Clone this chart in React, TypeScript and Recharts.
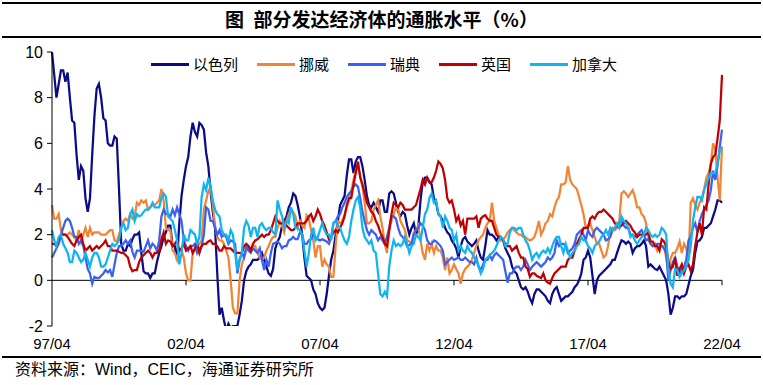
import React from 'react';
import { LineChart, Line, XAxis, YAxis, ReferenceLine } from 'recharts';

// monthly categories 97/04 ... 22/04
const months: string[] = [];
for (let k = 0; k < 301; k++) {
  const y = 1997 + Math.floor((3 + k) / 12);
  const mo = ((3 + k) % 12) + 1;
  months.push(`${String(y).slice(2)}/${mo < 10 ? '0' + mo : mo}`);
}

const xTickLabels = ['97/04', '02/04', '07/04', '12/04', '17/04', '22/04'];
const yTicks = [-2, 0, 2, 4, 6, 8, 10];

const israel = [
  10.0, 9.0, 8.0, 8.6, 9.2, 9.2, 8.7, 9.1, 8.0, 7.0,
  6.9, 5.5, 4.4, 5.0, 4.8, 3.6, 3.0, 3.6, 5.5, 7.2,
  8.4, 8.6, 8.0, 7.1, 7.0, 6.0, 5.9, 5.9, 6.3, 6.2,
  4.0, 1.6, 1.3, 1.3, 1.6, 1.5, 1.8, 2.0, 2.0, 2.1,
  1.2, 0.4, 0.3, 0.3, 0.1, 0.3, 0.3, 0.8, 1.2, 1.5,
  1.9, 2.1, 2.4, 2.4, 1.5, 1.5, 0.9, 2.5, 3.7, 4.4,
  5.0, 5.4, 6.3, 6.9, 6.5, 6.3, 6.9, 6.8, 6.6, 5.6,
  5.0, 3.9, 3.0, 2.3, 0.3, -1.5, -1.2, -1.75, -2.2, -1.9,
  -2.1, -2.0, -2.0, -2.0, -1.5, -0.9, 0.0, 0.4, 0.6, 0.7,
  0.9, 0.9, 0.9, 1.0, 1.2, 0.9, 0.6, 0.3, 0.2, 0.5,
  1.4, 1.7, 1.9, 2.4, 2.6, 2.8, 3.2, 3.4, 3.8, 3.7,
  3.3, 2.8, 2.0, 1.0, 0.2, 0.1, 0.0, -0.4, -0.6, -1.0,
  -1.2, -1.3, -1.2, -0.6, 0.2, 0.9, 1.3, 2.0, 2.6, 3.3,
  3.5, 3.7, 4.6, 5.3, 5.3, 4.7, 5.2, 5.4, 5.4, 5.0,
  4.4, 3.7, 3.3, 3.2, 3.4, 3.2, 3.0, 3.5, 3.5, 3.0,
  3.0, 3.8, 3.9, 3.8, 3.4, 3.0, 2.8, 3.0, 2.9, 2.4,
  2.0, 2.3, 2.5, 2.0, 2.3, 3.5, 4.3, 4.5, 4.5, 4.3,
  4.2, 3.6, 3.4, 2.9, 2.8, 2.6, 2.3, 2.1, 2.0, 1.75,
  1.6, 1.4, 1.0, 1.5, 1.8, 1.9, 1.7, 1.6, 1.5, 1.6,
  1.75, 1.3, 1.0, 0.9, 1.5, 2.2, 2.0, 2.0, 1.9, 1.75,
  1.9, 1.8, 1.75, 1.4, 1.2, 1.0, 0.6, 0.4, 0.3, 0.0,
  -0.3, -0.4, -0.3, -0.5, -0.8, -1.0, -0.6, -0.4, -0.4, -0.5,
  -0.6, -0.7, -0.9, -1.0, -0.6, -0.4, -0.3, -0.6, -0.9, -0.8,
  -0.7, -0.7, -0.6, -0.5, -0.3, -0.2, 0.0, 0.3, 0.9, 1.0,
  1.3, 1.0, 0.2, -0.6, 0.0, 0.2, 0.3, 0.4, 0.5, 0.6,
  0.7, 0.9, 0.9, 1.2, 1.5, 1.75, 1.7, 1.6, 1.7, 1.6,
  1.2, 1.4, 1.5, 1.5, 1.6, 1.75, 1.5, 0.6, 0.7, 0.6,
  0.5, 0.45, 0.6, 0.4, 0.2, 0.0, -0.6, -1.5, -1.2, -0.7,
  -0.7, -0.8, -0.7, -0.7, -0.6, -0.2, 0.2, 0.45, 1.2, 1.7,
  1.75, 1.9, 2.3, 2.3, 2.4, 2.5, 2.8, 3.1, 3.5, 3.5,
  3.4,
];

const norway = [
  3.3, 2.7, 2.7, 2.9, 2.2, 2.0, 2.0, 2.0, 2.1, 2.0,
  1.9, 1.75, 2.2, 1.7, 2.0, 2.3, 1.9, 2.3, 2.0, 2.1,
  2.1, 2.1, 2.0, 2.0, 2.0, 2.1, 2.2, 2.2, 1.75, 1.7,
  2.0, 2.3, 2.6, 2.7, 2.6, 2.9, 2.7, 2.8, 3.4, 3.3,
  3.5, 3.4, 3.5, 3.1, 3.2, 3.3, 3.3, 3.4, 3.5, 4.0,
  3.5, 2.3, 2.2, 2.2, 1.3, 1.2, 0.9, 1.3, 1.3, 1.0,
  0.3, 0.0, 0.0, 1.2, 1.3, 1.5, 1.6, 1.75, 3.1, 3.5,
  3.9, 4.1, 3.3, 2.4, 1.9, 1.75, 1.75, 1.6, 1.3, 1.0,
  0.0, -1.2, -1.45, -1.45, 0.0, 0.7, 1.0, 1.3, 1.5, 1.4,
  1.5, 1.5, 1.2, 1.0, 0.9, 1.0, 1.3, 1.5, 1.75, 1.9,
  1.9, 2.3, 2.6, 2.4, 2.1, 2.6, 2.9, 3.1, 3.0, 2.8,
  2.3, 2.6, 2.4, 2.3, 2.85, 2.7, 2.2, 1.75, 1.0, 1.5,
  1.5, 0.6, 0.9, 0.7, 0.6, 0.15, 0.15, 1.5, 2.6, 2.5,
  2.6, 2.9, 3.2, 3.5, 3.9, 4.4, 4.8, 5.0, 4.6, 4.1,
  3.4, 2.5, 2.5, 2.6, 3.1, 3.3, 3.5, 2.8, 2.3, 1.6,
  1.2, 2.2, 2.6, 2.9, 3.2, 3.1, 2.6, 2.4, 2.2, 1.75,
  1.7, 1.6, 2.1, 2.2, 2.4, 1.75, 1.2, 0.9, 1.6, 1.3,
  1.6, 1.2, 1.5, 1.3, 1.3, 1.0, 0.45, 1.0, 0.3, 0.45,
  0.7, 0.5, 0.3, -0.15, 0.3, 0.5, 0.6, 0.7, 0.9, 1.2,
  1.5, 1.75, 1.9, 2.0, 2.3, 2.5, 2.6, 3.4, 2.6, 2.3,
  2.0, 1.75, 1.8, 1.9, 2.1, 2.2, 2.3, 2.2, 2.1, 2.0,
  2.0, 1.9, 1.9, 1.8, 1.75, 1.8, 1.9, 2.2, 2.6, 2.0,
  2.2, 2.5, 2.6, 2.9, 2.8, 3.2, 3.5, 3.65, 4.2, 4.2,
  4.3, 5.0, 4.4, 4.2, 4.1, 4.0, 3.65, 3.3, 2.9, 2.3,
  2.4, 2.5, 2.2, 1.9, 1.6, 1.6, 1.3, 1.0, 1.1, 1.5,
  2.2, 2.3, 2.2, 2.3, 2.6, 3.8, 3.9, 3.8, 3.65, 3.8,
  3.95, 3.65, 3.2, 3.2, 2.9, 2.8, 2.5, 1.9, 1.6, 1.5,
  1.6, 1.3, 1.5, 1.5, 1.5, 1.0, 0.45, 0.95, 1.2, 1.2,
  1.4, 1.7, 1.2, 1.6, 1.4, 0.9, 3.4, 3.6, 3.3, 3.1,
  3.4, 3.6, 4.0, 4.5, 4.7, 5.1, 6.0, 5.75, 4.5, 3.5,
  5.85,
];

const sweden = [
  1.0, 1.2, 1.4, 1.6, 2.0, 2.3, 2.6, 2.7, 2.6, 2.3,
  1.9, 1.9, 1.6, 1.75, 1.5, 1.0, 0.5, 0.3, -0.15, 0.15,
  0.1, 0.1, 0.2, 0.3, 0.45, 0.35, 0.45, 0.15, 0.7, 1.2,
  1.5, 1.5, 1.6, 1.75, 1.6, 1.75, 1.25, 1.0, 1.3, 1.3,
  1.3, 1.25, 1.5, 1.75, 1.4, 1.6, 1.5, 1.3, 1.75, 2.8,
  3.1, 2.9, 2.9, 2.8, 3.1, 2.85, 3.2, 2.9, 2.6, 1.75,
  1.5, 1.3, 1.5, 1.5, 1.6, 1.2, 1.4, 1.5, 2.0, 3.2,
  3.1, 2.6, 2.6, 2.3, 2.0, 2.2, 1.9, 2.0, 1.9, 1.6,
  1.75, 1.7, 1.6, 0.3, 0.9, 1.2, 1.0, 1.5, 1.3, 1.2,
  1.4, 1.3, 1.2, 1.4, 0.9, 0.45, 0.9, 0.6, 1.2, 1.6,
  1.65, 1.7, 1.6, 1.4, 1.5, 1.5, 1.75, 1.8, 1.9, 1.8,
  1.8, 2.1, 2.0, 1.6, 1.6, 1.75, 1.8, 2.0, 1.9, 1.8,
  1.75, 1.8, 1.75, 1.7, 1.6, 1.9, 2.5, 2.6, 2.8, 2.9,
  3.2, 3.4, 3.65, 3.8, 3.9, 4.1, 4.2, 4.1, 3.6, 3.0,
  2.6, 2.2, 2.0, 2.2, 2.1, 2.0, 1.75, 1.9, 1.75, 1.6,
  1.9, 2.3, 2.8, 2.8, 2.7, 2.3, 2.0, 1.9, 1.75, 1.5,
  1.55, 1.6, 2.0, 2.2, 2.3, 2.5, 2.4, 2.2, 1.75, 1.6,
  1.6, 1.75, 1.7, 1.6, 1.5, 1.3, 0.7, 0.8, 0.9, 1.0,
  0.9, 0.95, 1.0, 0.9, 0.9, 1.0, 0.9, 0.8, 0.8, 0.7,
  1.0, 0.6, 0.45, 0.7, 0.9, 0.9, 1.1, 0.9, 1.1, 1.2,
  1.1, 1.0, 0.9, 0.4, -0.1, 0.3, 0.3, 0.5, 0.6, 0.6,
  0.45, 0.6, 0.9, 0.7, 0.45, 0.6, 0.7, 0.8, 0.7, 0.6,
  0.7, 0.8, 1.0, 0.9, 1.0, 1.2, 1.75, 1.5, 1.6, 1.6,
  1.5, 1.2, 1.3, 1.4, 1.6, 2.0, 2.1, 2.2, 2.0, 1.75,
  2.2, 2.0, 1.9, 2.2, 2.3, 2.2, 2.1, 2.0, 1.75, 1.8,
  1.9, 2.2, 2.3, 2.4, 2.5, 2.6, 2.4, 2.3, 2.3, 2.0,
  2.0, 1.9, 2.0, 2.1, 2.2, 2.0, 1.75, 1.8, 1.6, 1.5,
  1.5, 1.6, 1.6, 1.5, 1.4, 1.2, 0.0, 0.45, 0.8, 1.0,
  0.6, 0.3, 0.5, 0.6, 0.9, 1.75, 1.9, 2.3, 2.5, 2.1,
  2.6, 2.9, 3.1, 3.3, 3.5, 3.95, 4.8, 4.4, 5.0, 5.85,
  6.6,
];

const uk = [
  1.6, 1.6, 1.5, 1.8, 2.0, 2.0, 2.0, 1.9, 1.75, 1.6,
  1.5, 1.75, 1.9, 2.0, 1.6, 1.3, 1.4, 1.5, 1.3, 1.4,
  1.5, 1.4, 1.5, 1.6, 1.75, 1.5, 1.5, 1.3, 1.3, 1.3,
  1.25, 1.2, 1.2, 1.1, 1.0, 0.6, 0.4, 0.45, 0.45, 0.8,
  1.0, 1.1, 1.2, 1.3, 1.2, 1.0, 1.2, 1.2, 1.3, 1.8,
  2.1, 1.6, 1.75, 1.7, 1.5, 1.6, 1.75, 1.3, 1.4, 1.6,
  1.3, 1.4, 1.5, 1.2, 1.4, 1.6, 1.2, 1.5, 1.6, 1.6,
  1.7, 1.75, 1.6, 1.6, 1.5, 1.3, 1.3, 1.5, 1.4, 1.4,
  1.4, 1.3, 1.2, 1.2, 1.2, 1.2, 1.5, 1.6, 1.5, 1.3,
  1.6, 1.75, 1.8, 1.9, 2.0, 1.9, 2.0, 2.0, 2.2, 2.5,
  2.8, 2.6, 2.5, 2.5, 2.6, 2.4, 2.3, 2.2, 2.2, 2.3,
  2.5, 2.5, 2.5, 2.5, 2.6, 2.8, 2.9, 2.6, 2.8, 3.1,
  2.9, 2.6, 2.4, 2.1, 1.8, 1.9, 2.1, 2.2, 2.1, 2.3,
  2.5, 2.8, 3.3, 3.6, 3.6, 4.2, 4.7, 5.2, 4.5, 4.2,
  3.8, 3.4, 3.2, 3.0, 2.9, 2.6, 2.4, 2.1, 1.9, 1.6,
  1.5, 2.2, 2.9, 3.4, 3.3, 3.2, 3.4, 3.3, 3.1, 3.1,
  3.1, 3.1, 3.2, 3.3, 3.65, 4.0, 4.4, 4.2, 4.5, 4.3,
  4.3, 4.5, 4.8, 5.2, 5.1, 4.9, 4.4, 3.6, 3.4, 3.5,
  3.1, 2.6, 2.8, 2.4, 2.6, 2.0, 2.7, 2.7, 2.7, 2.7,
  2.8, 2.3, 2.7, 2.8, 2.85, 2.7, 2.6, 2.6, 2.3, 2.0,
  1.9, 1.9, 1.75, 1.6, 1.5, 1.5, 1.3, 1.4, 1.5, 1.2,
  1.0, 1.0, 0.6, 0.5, 0.15, 0.3, 0.3, 0.2, 0.15, 0.1,
  0.3, 0.0, -0.1, -0.15, 0.1, 0.3, 0.4, 0.5, 0.6, 0.6,
  0.6, 0.9, 1.0, 1.0, 1.3, 1.6, 1.8, 2.0, 2.3, 2.3,
  2.3, 2.7, 2.8, 2.7, 2.9, 3.0, 3.0, 3.1, 3.0, 2.9,
  2.8, 2.7, 2.5, 2.4, 2.3, 2.4, 2.5, 2.6, 2.5, 2.4,
  2.2, 2.1, 1.9, 2.0, 2.0, 2.0, 2.0, 2.1, 1.7, 1.7,
  1.5, 1.5, 1.3, 1.8, 1.7, 1.5, 0.8, 0.5, 0.6, 1.0,
  0.2, 0.5, 0.7, 0.3, 0.6, 0.7, 0.4, 0.7, 1.5, 2.1,
  2.5, 2.0, 3.2, 3.1, 4.2, 5.1, 5.4, 5.5, 6.2, 7.0,
  9.0,
];

const canada = [
  2.2, 1.75, 1.5, 1.9, 2.0, 1.6, 1.4, 1.2, 0.8, 0.8,
  1.3, 1.2, 1.0, 0.8, 0.9, 1.2, 0.9, 0.6, 1.0, 1.2,
  1.2, 1.0, 0.6, 0.6, 0.7, 1.0, 1.3, 1.6, 1.5, 1.6,
  1.75, 2.3, 2.5, 2.2, 2.3, 2.9, 3.1, 2.6, 2.9, 2.8,
  2.85, 3.0, 3.1, 3.1, 3.2, 3.4, 3.2, 3.2, 3.2, 3.6,
  3.8, 3.65, 2.8, 2.7, 2.6, 2.2, 1.75, 0.7, 1.2, 2.0,
  1.75, 1.75, 2.2, 2.1, 2.0, 1.6, 1.9, 3.65, 4.2, 3.95,
  4.5, 4.1, 3.5, 3.1, 2.9, 2.8, 2.2, 2.0, 2.0, 1.75,
  2.2, 2.0, 1.2, 0.45, 0.9, 1.2, 2.3, 2.6, 2.4, 1.9,
  2.3, 2.3, 1.9, 2.4, 2.5, 2.3, 2.2, 2.3, 2.3, 2.1,
  2.0, 3.5, 3.1, 2.8, 2.3, 2.6, 2.5, 3.2, 2.9, 2.3,
  2.3, 2.2, 2.0, 1.3, 0.6, 1.2, 2.0, 2.3, 1.75, 1.9,
  2.2, 2.5, 2.2, 2.0, 2.0, 1.75, 2.5, 2.6, 2.4, 2.3,
  2.0, 1.75, 1.6, 1.9, 2.6, 3.1, 3.5, 3.65, 3.2, 2.3,
  1.9, 1.75, 1.6, 1.75, 1.3, 1.2, 0.3, -0.6, -0.7, -0.5,
  -0.7, 0.6, 1.3, 1.75, 1.5, 1.6, 1.5, 1.6, 1.9, 1.6,
  1.2, 1.5, 1.6, 2.0, 1.9, 1.75, 2.3, 2.9, 3.1, 3.6,
  3.8, 3.4, 3.5, 2.9, 2.8, 2.3, 2.8, 2.6, 2.3, 2.2,
  1.75, 2.0, 1.3, 1.5, 1.3, 1.2, 1.5, 1.3, 1.2, 1.0,
  0.9, 0.6, 0.3, 0.5, 0.9, 1.0, 1.1, 1.2, 1.3, 1.5,
  1.75, 1.9, 1.8, 1.5, 1.6, 2.1, 2.3, 2.3, 2.2, 2.3,
  2.3, 2.0, 1.75, 1.6, 1.3, 0.9, 1.1, 1.2, 1.0, 1.2,
  1.3, 1.2, 1.4, 1.2, 1.5, 1.75, 1.9, 1.9, 1.5, 1.2,
  1.6, 1.3, 1.0, 1.2, 1.3, 1.5, 1.6, 1.9, 1.75, 1.75,
  1.5, 1.4, 1.2, 1.5, 1.6, 1.7, 1.9, 2.0, 2.2, 2.0,
  2.3, 2.2, 2.3, 2.5, 2.3, 2.8, 2.6, 2.5, 2.3, 1.9,
  2.0, 1.75, 1.6, 1.75, 1.9, 2.0, 2.3, 2.2, 2.0, 1.9,
  2.0, 1.9, 2.0, 2.3, 2.2, 2.0, 0.45, -0.15, -0.3, 0.5,
  0.45, 0.15, 0.3, 0.45, 0.6, 0.9, 1.5, 2.6, 3.2, 3.65,
  3.65, 3.5, 3.95, 4.2, 4.5, 4.7, 4.7, 4.7, 5.1, 5.7,
  5.85,
];

const series = [
  { key: 'israel', name: '以色列', color: '#0B0B87', values: israel },
  { key: 'norway', name: '挪威', color: '#F28535', values: norway },
  { key: 'sweden', name: '瑞典', color: '#3A62F2', values: sweden },
  { key: 'uk', name: '英国', color: '#C00000', values: uk },
  { key: 'canada', name: '加拿大', color: '#10B4F0', values: canada },
];

const data = months.map((label, idx) => {
  const row: Record<string, number | string> = { idx, label };
  series.forEach((s) => {
    row[s.key] = s.values[idx];
  });
  return row;
});

const xTickIdx = xTickLabels.map((t) => months.indexOf(t));

const cjk = '"Noto Sans CJK SC", sans-serif';
const latin = '"Liberation Sans", Arial, "Noto Sans CJK SC", sans-serif';

const rule = (top: number): React.CSSProperties => ({
  position: 'absolute',
  left: 2,
  width: 759,
  top,
  height: 2,
  background: '#000',
});

export default function App() {
  return (
    <div style={{ position: 'absolute', left: 0, top: 0, width: 763, height: 385, background: '#fff', overflow: 'hidden' }}>
      <div style={rule(2)} />
      <div
        style={{
          position: 'absolute',
          top: 7,
          left: 0,
          width: 763,
          textAlign: 'center',
          fontFamily: cjk,
          fontWeight: 700,
          fontSize: 19,
          lineHeight: '24px',
          color: '#000',
        }}
      >
        图{'\u2002'}部分发达经济体的通胀水平（%）
      </div>
      <div style={rule(36)} />

      <LineChart width={763} height={385} data={data} margin={{ top: 52, right: 41, bottom: 29, left: 0 }} style={{ position: 'absolute', left: 0, top: 0 }}>
        <XAxis
          type="number"
          dataKey="idx"
          domain={[0, 300]}
          ticks={xTickIdx}
          interval={0}
          tickFormatter={(i: number) => months[i]}
          axisLine={false}
          tickLine={false}
          tickSize={6}
          tickMargin={6}
          height={30}
          tick={{ fill: '#000', fontSize: 15, fontFamily: latin }}
        />
        <YAxis
          domain={[-2, 10]}
          ticks={yTicks}
          interval={0}
          allowDataOverflow
          width={52}
          axisLine={{ stroke: '#000' }}
          tickLine={{ stroke: '#000' }}
          tickSize={5}
          tickMargin={4}
          tick={{ fill: '#000', fontSize: 16, fontFamily: latin }}
        />
        <ReferenceLine y={0} stroke="#000" strokeWidth={1} />
        {xTickIdx.slice(1).map((i) => (
          <ReferenceLine key={i} segment={[{ x: i, y: 0 }, { x: i, y: -0.22 }]} stroke="#000" />
        ))}
        {series.map((s) => (
          <Line
            key={s.key}
            type="linear"
            dataKey={s.key}
            name={s.name}
            stroke={s.color}
            strokeWidth={2.25}
            dot={false}
            activeDot={false}
            isAnimationActive={false}
          />
        ))}
      </LineChart>

      <div style={{ position: 'absolute', top: 55, left: 151, display: 'flex', alignItems: 'center', height: 18 }}>
        {series.map((s) => (
          <div key={s.key} style={{ display: 'flex', alignItems: 'center', marginRight: 19 }}>
            <div style={{ width: 38, height: 3, background: s.color }} />
            <span style={{ marginLeft: 4, fontFamily: cjk, fontSize: 15, lineHeight: '18px', color: '#000' }}>{s.name}</span>
          </div>
        ))}
      </div>

      <div style={rule(356)} />
      <div style={{ position: 'absolute', top: 360, left: 15, fontFamily: latin, fontSize: 16, lineHeight: '20px', color: '#000', whiteSpace: 'nowrap' }}>
        资料来源：Wind，CEIC，海通证券研究所
      </div>
    </div>
  );
}
